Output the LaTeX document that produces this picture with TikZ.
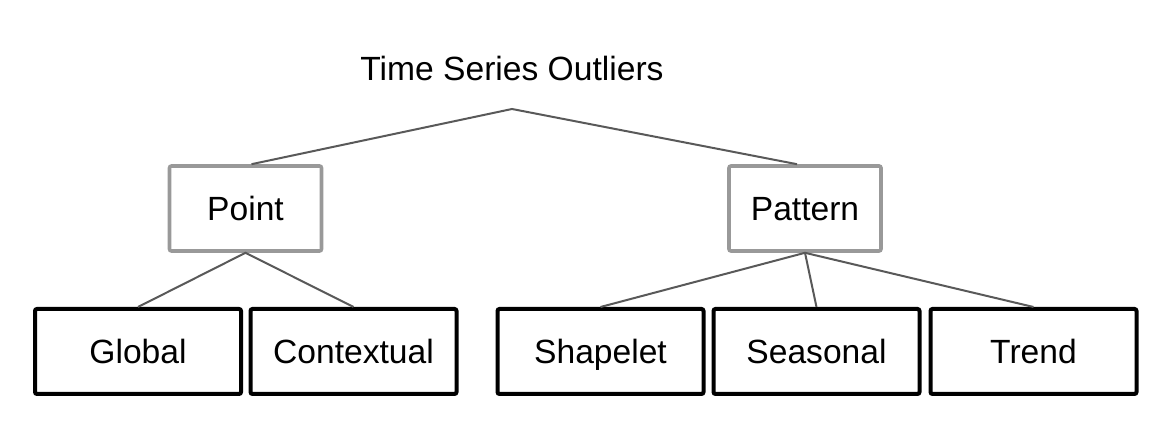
\documentclass[tikz,border=0pt]{standalone}
\usepackage{fontspec}
\setmainfont{Liberation Sans}

\begin{document}
\begin{tikzpicture}[
        x=0.5pt, y=-0.5pt,
        every node/.style = {
            font=\fontsize{16.8}{20}\selectfont,
            inner sep=1pt,
            text height=12pt,
            text depth=0pt
        },
        group/.style = {
            draw=gray!80,
            line width=1.8pt,
            rounded corners=1pt,
            minimum width=76pt,
            minimum height=42.5pt
        },
        kind/.style = {
            draw=black,
            line width=2pt,
            rounded corners=1pt,
            minimum width=103pt,
            minimum height=42.5pt
        },
        link/.style = {draw=black!65, line width=1pt}]
        \useasboundingbox (0,0) rectangle (1174,426);
        \node (title) at (512,69) {Time Series Outliers};
        \coordinate (apex) at (512,109);
        \node[group] (point) at (245.5,208.5) {Point};
        \node[group] (pattern) at (805,208.5) {Pattern};
        \node[kind] (global) at (138,351.5) {Global};
        \node[kind] (contextual) at (353.5,351.5) {Contextual};
        \node[kind] (shapelet) at (600.5,351.5) {Shapelet};
        \node[kind] (seasonal) at (816.5,351.5) {Seasonal};
        \node[kind] (trend) at (1033.5,351.5) {Trend};
        \draw[link] ([xshift=3pt]point.north) -- (apex) -- ([xshift=-4pt]pattern.north);
        \draw[link] (global.north) -- (point.south) -- (contextual.north);
        \draw[link] (shapelet.north) -- (pattern.south) -- (trend.north);
        \draw[link] (pattern.south) -- (seasonal.north);
    \end{tikzpicture}
\end{document}
